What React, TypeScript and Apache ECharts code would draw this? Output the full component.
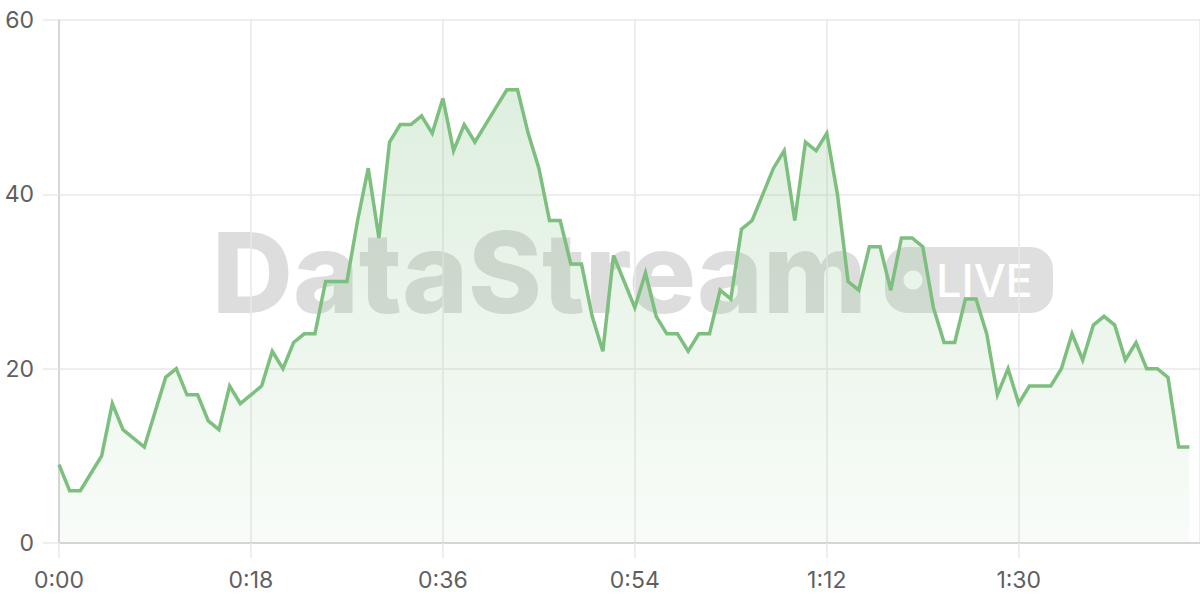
// Live stream line chart with a "DataStream LIVE" watermark behind the series.
import { useEffect, useRef } from 'react'
import * as echarts from 'echarts'

// one reading per second, starting at 0:00
const values = [
  9, 6, 6, 8, 10, 16, 13, 12, 11, 15, 19, 20, 17, 17, 14, 13, 18, 16, 17, 18,
  22, 20, 23, 24, 24, 30, 30, 30, 37, 43, 35, 46, 48, 48, 49, 47, 51, 45, 48, 46,
  48, 50, 52, 52, 47, 43, 37, 37, 32, 32, 26, 22, 33, 30, 27, 31, 26, 24, 24, 22,
  24, 24, 29, 28, 36, 37, 40, 43, 45, 37, 46, 45, 47, 40, 30, 29, 34, 34, 29, 35,
  35, 34, 27, 23, 23, 28, 28, 24, 17, 20, 16, 18, 18, 18, 20, 24, 21, 25, 26, 25,
  21, 23, 20, 20, 19, 11, 11,
]
const seconds = values.map((_, i) => i)

const xTickStep = 18
const xMax = 107
const yTicks = [0, 20, 40, 60]

const verde = '#7dbf7e'
const fonte = 'Inter, sans-serif'

const formatarTempo = (s: number) => `${Math.floor(s / 60)}:${String(s % 60).padStart(2, '0')}`

export default function App() {
  const containerRef = useRef<HTMLDivElement>(null)

  useEffect(() => {
    if (!containerRef.current) return
    const chart = echarts.init(containerRef.current, undefined, { renderer: 'svg' })

    const rotulo = { color: '#5f5f5f', fontSize: 23, fontFamily: fonte }
    const linhaGrade = { color: '#e8e8e8', width: 1.5 }
    const eixo = { color: '#d6d6d6', width: 2 }

    chart.setOption({
      animation: false,
      backgroundColor: '#ffffff',
      textStyle: { fontFamily: fonte },
      grid: { left: 59, right: 0, top: 20, bottom: 57, containLabel: false },
      // marca d'agua desenhada sob a serie
      graphic: [
        {
          type: 'group',
          z: 1,
          silent: true,
          children: [
            {
              type: 'text',
              x: 212,
              y: 272,
              style: {
                text: 'DataStream',
                fill: 'rgba(0,0,0,0.135)',
                font: `800 112px ${fonte}`,
                textAlign: 'left',
                textVerticalAlign: 'middle',
              },
            },
            {
              type: 'rect',
              shape: { x: 885, y: 247, width: 168, height: 66, r: 22 },
              style: { fill: 'rgba(0,0,0,0.125)' },
            },
            {
              type: 'circle',
              shape: { cx: 913, cy: 280, r: 9.5 },
              style: { fill: '#ffffff' },
            },
            {
              type: 'text',
              x: 936,
              y: 280,
              style: {
                text: 'LIVE',
                fill: '#ffffff',
                font: `500 45px ${fonte}`,
                textAlign: 'left',
                textVerticalAlign: 'middle',
              },
            },
          ],
        },
      ],
      xAxis: {
        type: 'value',
        min: 0,
        max: xMax,
        interval: xTickStep,
        axisLine: { show: true, lineStyle: eixo },
        axisTick: { show: true, length: 15, lineStyle: linhaGrade },
        splitLine: { show: true, lineStyle: linhaGrade },
        axisLabel: {
          ...rotulo,
          margin: 25,
          showMaxLabel: false,
          formatter: (v: number) => formatarTempo(v),
        },
      },
      yAxis: {
        type: 'value',
        min: yTicks[0],
        max: yTicks[yTicks.length - 1],
        interval: yTicks[1] - yTicks[0],
        axisLine: { show: true, lineStyle: eixo },
        axisTick: { show: true, length: 16, lineStyle: linhaGrade },
        splitLine: { show: true, lineStyle: linhaGrade },
        axisLabel: { ...rotulo, margin: 25 },
      },
      series: [
        {
          type: 'line',
          z: 2,
          data: seconds.map((s, i) => [s, values[i]]),
          symbol: 'none',
          lineStyle: { color: verde, width: 3.5, join: 'miter' },
          itemStyle: { color: verde },
          areaStyle: {
            color: new echarts.graphic.LinearGradient(0, 0, 0, 1, [
              { offset: 0, color: 'rgba(125,191,126,0.36)' },
              { offset: 1, color: 'rgba(125,191,126,0.07)' },
            ]),
          },
        },
      ],
    })

    return () => chart.dispose()
  }, [])

  return (
    <div
      ref={containerRef}
      style={{ position: 'absolute', left: 0, top: 0, width: 1200, height: 600 }}
    />
  )
}
